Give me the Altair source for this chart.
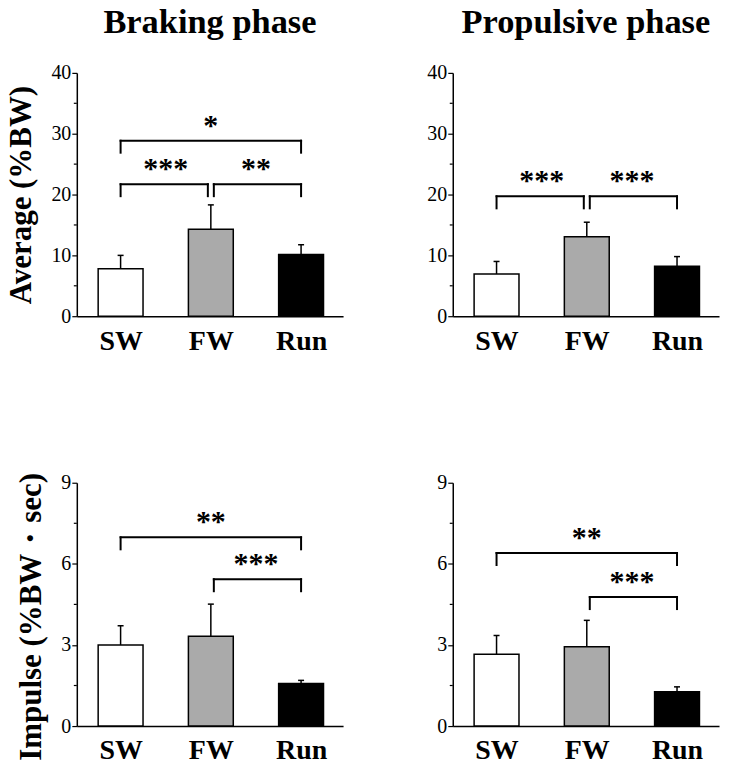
import altair as alt
import pandas as pd

categories = ["SW", "FW", "Run"]
phases = ["Braking phase", "Propulsive phase"]
fills = ["#ffffff", "#aaaaaa", "#000000"]

# Average force (%BW): means and SD (upper error bar only)
avg_brake_mean = [7.8, 14.3, 10.15]
avg_brake_sd = [2.2, 4.0, 1.6]
avg_prop_mean = [6.95, 13.05, 8.2]
avg_prop_sd = [2.05, 2.4, 1.6]

# Impulse (%BW・sec)
imp_brake_mean = [3.0, 3.32, 1.57]
imp_brake_sd = [0.71, 1.19, 0.12]
imp_prop_mean = [2.66, 2.93, 1.27]
imp_prop_sd = [0.69, 0.98, 0.18]

# significance brackets: (from, to, level, label)
avg_brake_brackets = [("SW", "Run", 28.85, "*"), ("SW", "FW", 21.7, "***"), ("FW", "Run", 21.7, "**")]
avg_prop_brackets = [("SW", "FW", 19.7, "***"), ("FW", "Run", 19.7, "***")]
imp_brake_brackets = [("SW", "Run", 6.98, "**"), ("FW", "Run", 5.43, "***")]
imp_prop_brackets = [("SW", "Run", 6.4, "**"), ("FW", "Run", 4.77, "***")]

SERIF = "Liberation Serif"
W, H = 267, 244
GAP = 3       # px gap of bracket ends at the middle bar
LEG = 12      # px bracket leg length


def panel(means, sds, brackets, ymax, major, ytitle=None, title=None, title_shift=0):
    df = pd.DataFrame({"cat": categories, "idx": list(range(len(categories))),
                       "mean": means, "sd": sds})
    df["upper"] = df["mean"] + df["sd"]

    xscale = alt.Scale(domain=[-0.43, 2.41], nice=False, zero=False)
    yscale = alt.Scale(domain=[0, ymax], nice=False)
    nmaj = int(round(ymax / major))
    yvals = [i * major for i in range(nmaj + 1)]
    minor_vals = [(i + 0.5) * major for i in range(nmaj)]
    label_expr = "[" + ",".join("'%s'" % c for c in categories) + "][datum.value]"

    xaxis = alt.Axis(values=list(range(len(categories))), labelExpr=label_expr,
                     ticks=False, tickSize=0, grid=False, title=None,
                     labelFont=SERIF, labelFontWeight="bold", labelFontSize=28,
                     labelColor="black", labelPadding=11,
                     domainColor="black", domainWidth=1.5)
    ykw = dict(values=yvals, format="d", grid=False,
               tickSize=5, tickColor="black", tickWidth=1.2,
               labelFont=SERIF, labelFontSize=20, labelFontWeight="normal",
               labelColor="black", labelPadding=1,
               domainColor="black", domainWidth=1.5)
    if ytitle:
        ykw.update(title=ytitle, titleFont=SERIF, titleFontSize=31, titleFontWeight="bold",
                   titleColor="black", titlePadding=13)
        if title_shift:
            ykw.update(titleY=H / 2 + title_shift)
    else:
        ykw.update(title=None)
    yaxis = alt.Axis(**ykw)

    X = lambda f: alt.X(f, type="quantitative", scale=xscale, axis=xaxis)
    Y = lambda f: alt.Y(f, type="quantitative", scale=yscale, axis=yaxis)

    base = alt.Chart(df)
    bars = base.mark_bar(size=45, stroke="black", strokeWidth=1.5).encode(
        x=X("idx"), y=Y("mean"),
        fill=alt.Fill("cat:N", scale=alt.Scale(domain=categories, range=fills), legend=None),
    )
    err = base.mark_rule(color="black", strokeWidth=1.5).encode(
        x=X("idx"), y=Y("mean"), y2=alt.Y2("upper"))
    cap = base.mark_rule(color="black", strokeWidth=1.5, xOffset=-3, x2Offset=3).encode(
        x=X("idx"), x2=alt.X2("idx"), y=Y("upper"))
    # minor ticks on the y axis
    mdf = pd.DataFrame({"m": minor_vals})
    minor = alt.Chart(mdf).mark_rule(color="black", strokeWidth=1.2).encode(
        y=Y("m"), x=alt.value(0), x2=alt.value(-3))
    layers = [bars, err, cap, minor]

    last = len(categories) - 1
    for a, b, level, lab in brackets:
        ia, ib = categories.index(a), categories.index(b)
        oa = GAP if 0 < ia < last else 0
        ob = GAP if 0 < ib < last else 0
        bd = pd.DataFrame({"x1": [ia], "x2": [ib], "lvl": [level],
                           "mid": [(ia + ib) / 2], "lab": [lab]})
        bc = alt.Chart(bd)
        layers.append(bc.mark_rule(color="black", strokeWidth=2, strokeCap="square",
                                   xOffset=oa, x2Offset=-ob).encode(
            x=X("x1"), x2=alt.X2("x2"), y=Y("lvl")))
        layers.append(bc.mark_rule(color="black", strokeWidth=2, strokeCap="square",
                                   xOffset=oa, y2Offset=LEG).encode(
            x=X("x1"), y=Y("lvl"), y2=alt.Y2("lvl")))
        layers.append(bc.mark_rule(color="black", strokeWidth=2, strokeCap="square",
                                   xOffset=-ob, y2Offset=LEG).encode(
            x=X("x2"), y=Y("lvl"), y2=alt.Y2("lvl")))
        layers.append(bc.mark_text(font=SERIF, fontSize=30, fontWeight="bold",
                                   baseline="alphabetic", align="center", dy=-6,
                                   color="black").encode(
            x=X("mid"), y=Y("lvl"), text="lab:N"))

    props = dict(width=W, height=H)
    if title:
        props["title"] = alt.TitleParams(text=title, font=SERIF, fontSize=34.5, fontWeight="bold",
                                         color="black", frame="group", anchor="middle",
                                         offset=22)
    return alt.layer(*layers).properties(**props)


p1 = panel(avg_brake_mean, avg_brake_sd, avg_brake_brackets, 40, 10,
           ytitle="Average (%BW)", title=phases[0])
p2 = panel(avg_prop_mean, avg_prop_sd, avg_prop_brackets, 40, 10, title=phases[1])
p3 = panel(imp_brake_mean, imp_brake_sd, imp_brake_brackets, 9, 3,
           ytitle="Impulse (%BW・sec)", title_shift=12)
p4 = panel(imp_prop_mean, imp_prop_sd, imp_prop_brackets, 9, 3)

chart = alt.concat(p1, p2, p3, p4, columns=2,
                   spacing={"row": 167, "column": 110}, bounds="flush").properties(
    padding={"left": -2, "top": -4, "right": 5, "bottom": 5},
    background="white",
).configure_view(stroke=None).configure_axis(
    labelFont=SERIF, labelColor="black")

chart.save("out.html", embed_options={"renderer": "svg", "actions": False})
